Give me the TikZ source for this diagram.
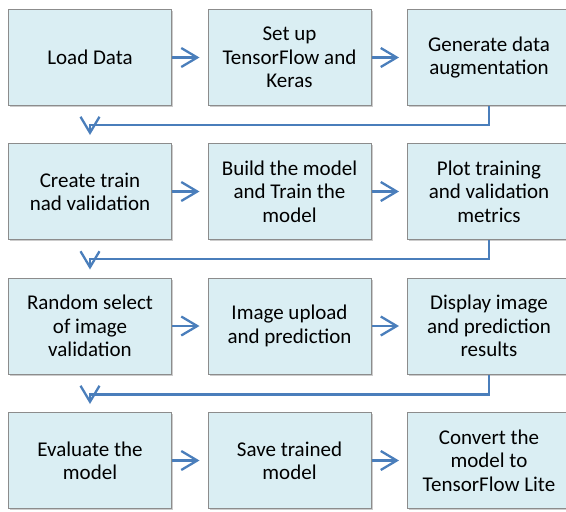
\documentclass[tikz,border=0pt]{standalone}
\usepackage{fontspec}
\setmainfont{Carlito}
\usetikzlibrary{arrows.meta,shadows}

\definecolor{boxfill}{HTML}{DAEEF3}
\definecolor{boxline}{HTML}{8C8C8C}
\definecolor{flowblue}{HTML}{4A7EBB}

\tikzset{
  stepbox/.style={draw=boxline, line width=1pt, fill=boxfill,
    minimum width=163pt, minimum height=96pt, inner sep=0pt,
    align=center, font=\fontsize{21}{23.3}\selectfont,
    drop shadow={shadow xshift=1.5pt, shadow yshift=-1.5pt, fill=black!40}},
  flow/.style={draw=flowblue, line width=2.3pt, shorten >=8pt,
    -{Straight Barb[length=16pt, width=19pt, line width=2.3pt]}}
}

\begin{document}
\begin{tikzpicture}[x=1pt,y=-1pt]
        \path[use as bounding box, clip] (0,0) rectangle (566,512);

            % row 1
            \node[stepbox] (load) at (90,57.5) {Load Data};
            \node[stepbox] (setup) at (289.5,57.5) {Set up\\TensorFlow and\\Keras};
            \node[stepbox] (augment) at (489,57.5) {Generate data\\augmentation};
            % row 2
            \node[stepbox] (split) at (90,191.5) {Create train\\nad validation};
            \node[stepbox] (build) at (289.5,191.5) {Build the model\\and Train the\\model};
            \node[stepbox] (plot) at (489,191.5) {Plot training\\and validation\\metrics};
            % row 3
            \node[stepbox] (select) at (90,326) {Random select\\of image\\validation};
            \node[stepbox] (upload) at (289.5,326) {Image upload\\and prediction};
            \node[stepbox] (display) at (489,326) {Display image\\and prediction\\results};
            % row 4
            \node[stepbox] (evaluate) at (90,460.5) {Evaluate the\\model};
            \node[stepbox] (save) at (289.5,460.5) {Save trained\\model};
            \node[stepbox] (convert) at (489,460.5) {Convert the\\model to\\TensorFlow Lite};

        \draw[flow] (load.east) -- (setup.west);
        \draw[flow] (setup.east) -- (augment.west);
        \draw[flow] (augment.south) -- ++(0,19) -| (split.north);
        \draw[flow] (split.east) -- (build.west);
        \draw[flow] (build.east) -- (plot.west);
        \draw[flow] (plot.south) -- ++(0,19) -| (select.north);
        \draw[flow] (select.east) -- (upload.west);
        \draw[flow] (upload.east) -- (display.west);
        \draw[flow] (display.south) -- ++(0,20) -| (evaluate.north);
        \draw[flow] (evaluate.east) -- (save.west);
        \draw[flow] (save.east) -- (convert.west);
    \end{tikzpicture}
\end{document}
